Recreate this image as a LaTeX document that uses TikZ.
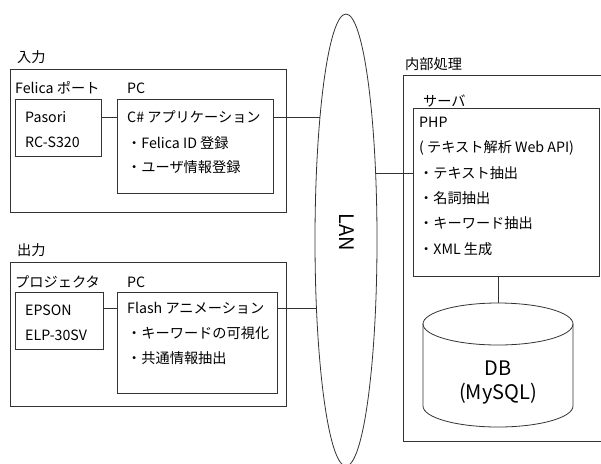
\documentclass[tikz,border=0pt]{standalone}
\usepackage{fontspec}
\setmainfont{Noto Sans CJK JP}
\usetikzlibrary{shapes.geometric}
\begin{document}
\begin{tikzpicture}[x=1pt,y=-1pt,
  ln/.style={draw=black!80,line width=0.8pt},
  bx/.style={ln,anchor=north west,inner sep=0pt,minimum width=#1},
  txt/.style={anchor=west,inner sep=0pt,font=\fontsize{14.2}{17}\selectfont},
  big/.style={inner sep=0pt,font=\fontsize{20}{24}\selectfont}]
\useasboundingbox (0,0) rectangle (601,463);
% input group
\node[txt] (inlbl) at (17,57) {入力};
\node[bx=276pt,minimum height=143pt] (inbox) at (10,69) {};
\node[txt] (felicalbl) at (15,88) {Felica ポート};
\node[txt] (pc1lbl) at (127,88) {PC};
\node[bx=86pt,minimum height=57pt] (pasori) at (15,99) {};
\node[txt] (pasori1) at (25,117) {Pasori};
\node[txt] (pasori2) at (25,142) {RC-S320};
\node[bx=156pt,minimum height=94pt] (csharp) at (117,99) {};
\node[txt] (cs1) at (127,117) {C\# アプリケーション};
\node[txt] (cs2) at (127,143) {・Felica ID 登録};
\node[txt] (cs3) at (127,167) {・ユーザ情報登録};
% output group
\node[txt] (outlbl) at (17,250) {出力};
\node[bx=276pt,minimum height=144pt] (outbox) at (10,262) {};
\node[txt] (projlbl) at (15,282) {プロジェクタ};
\node[txt] (pc2lbl) at (127,282) {PC};
\node[bx=88pt,minimum height=57pt] (epson) at (15,292) {};
\node[txt] (epson1) at (25,310) {EPSON};
\node[txt] (epson2) at (25,335) {ELP-30SV};
\node[bx=160pt,minimum height=101pt] (flash) at (117,292) {};
\node[txt] (fl1) at (127,308) {Flash アニメーション};
\node[txt] (fl2) at (127,333) {・キーワードの可視化};
\node[txt] (fl3) at (127,358) {・共通情報抽出};
% LAN
\node[ellipse,ln,minimum width=62pt,minimum height=452pt,inner sep=0pt] (lan) at (346,240) {};
\node[big,rotate=-90] (lantxt) at (347,232) {LAN};
\coordinate (lanin) at (320,117);
\coordinate (lanout) at (316.4,308);
\coordinate (lansrv) at (375.6,173);
% server group
\node[txt] (intlbl) at (405,64) {内部処理};
\draw[ln] (601,75) -- (403,75) -- (403,441) -- (601,441);
\node[txt] (srvlbl) at (423,101) {サーバ};
\node[bx=186pt,minimum height=168pt] (php) at (413,108) {};
\node[txt] (p1) at (419,122) {PHP};
\node[txt] (p2) at (419,148) {( テキスト解析 Web API)};
\node[txt] (p3) at (419,173) {・テキスト抽出};
\node[txt] (p4) at (419,198) {・名詞抽出};
\node[txt] (p5) at (419,223) {・キーワード抽出};
\node[txt] (p6) at (419,249) {・XML 生成};
% DB cylinder
\coordinate (dbtop) at (498,303);
\draw[ln] (423,324) arc[start angle=180,end angle=-180,x radius=75,y radius=21];
\draw[ln] (423,324) -- (423,406) arc[start angle=180,end angle=360,x radius=75,y radius=-21] -- (573,324);
\node[big,align=center] (db) at (498,383) {DB\\(MySQL)};
% connectors
\draw[ln] (pasori.east |- cs1) -- (csharp.west |- cs1);
\draw[ln] (csharp.east |- lanin) -- (lanin);
\draw[ln] (epson.east |- fl1) -- (flash.west |- fl1);
\draw[ln] (flash.east |- lanout) -- (lanout);
\draw[ln] (lansrv) -- (php.west |- lansrv);
\draw[ln] (dbtop |- php.south) -- (dbtop);
\end{tikzpicture}
\end{document}
